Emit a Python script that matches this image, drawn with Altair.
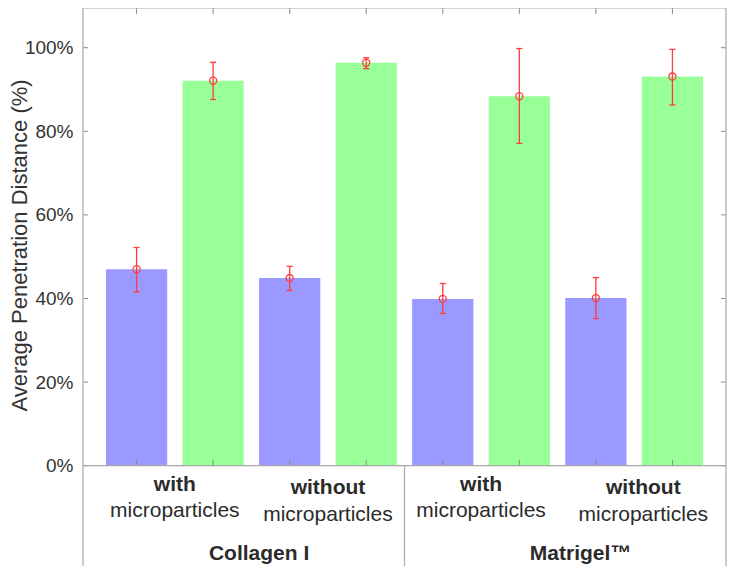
import altair as alt
import pandas as pd

# ---- data ----
matrices = ["Collagen I", "Matrigel™"]
conditions = ["with", "without"]
series = ["series 1", "series 2"]
# order: Collagen with (s1, s2), Collagen without (s1, s2), Matrigel with (s1, s2), Matrigel without (s1, s2)
means = [47.0, 92.1, 44.9, 96.4, 39.9, 88.4, 40.1, 93.1]
err_low = [41.6, 87.6, 41.9, 95.0, 36.4, 77.1, 35.2, 86.3]
err_high = [52.2, 96.5, 47.7, 97.6, 43.6, 99.8, 45.0, 99.6]
y_ticks = [0, 20, 40, 60, 80, 100]

# ---- layout constants ----
X0, X1 = 0.3, 8.7
Y0, Y1 = -24.0, 109.5
W, H = 643, 558
BAR_HALF = 0.4
CAP_HALF = 0.04
TICK_X = 5 * (X1 - X0) / W
TICK_Y = 6 * (Y1 - Y0) / H
FRAME = "#a8a8a8"
TICKC = "#8a8a8a"
RED = "#ff3c3c"
FONT = "Liberation Sans"
TXT = "#2b2b2b"
# label placement (data units below the axis) and small horizontal nudges
ROW_BOLD = {"with": -6.0, "without": -6.7}
ROW_PLAIN = {"with": -12.3, "without": -13.2}
ROW_GROUP = -22.6
NUDGE_COND = {("Matrigel™", "without"): 0.12}
NUDGE_GROUP = {"Collagen I": 0.1, "Matrigel™": 0.3}

rows = []
i = 0
for m in matrices:
    for c in conditions:
        for s in series:
            rows.append(dict(pos=i + 1, matrix=m, condition=c, series=s,
                             mean=means[i], lo=err_low[i], hi=err_high[i]))
            i += 1
df = pd.DataFrame(rows)

xs = alt.Scale(domain=[X0, X1], nice=False, zero=False)
ys = alt.Scale(domain=[Y0, Y1], nice=False, zero=False)
yaxis = alt.Axis(values=y_ticks, labelExpr="datum.value + '%'", domain=False, ticks=False,
                 grid=False, labelFontSize=19, labelFont=FONT, labelColor="#333333",
                 labelPadding=10, title="Average Penetration Distance (%)", titleFont=FONT,
                 titleFontSize=22, titleFontWeight="normal", titleColor="#333333",
                 titleAngle=270, titleBaseline="bottom", titleAlign="center",
                 titleX=-52, titleY=237)


def X(f):
    return alt.X(f, type="quantitative", scale=xs, axis=None)


def Y(f):
    return alt.Y(f, type="quantitative", scale=ys, axis=yaxis)


base = alt.Chart(df)

bars = base.transform_calculate(
    xa=f"datum.pos - {BAR_HALF}", xb=f"datum.pos + {BAR_HALF}", zero="0"
).mark_bar(opacity=1).encode(
    x=X("xa"), x2="xb", y=Y("mean"), y2="zero",
    color=alt.Color("series:N", scale=alt.Scale(domain=series, range=["#9999ff", "#99ff99"]),
                    legend=None),
)

err = base.mark_rule(color=RED, strokeWidth=1.3).encode(x=X("pos"), y=Y("lo"), y2="hi")
cap_hi = base.transform_calculate(
    xa=f"datum.pos - {CAP_HALF}", xb=f"datum.pos + {CAP_HALF}"
).mark_rule(color=RED, strokeWidth=1.3).encode(x=X("xa"), x2="xb", y=Y("hi"))
cap_lo = base.transform_calculate(
    xa=f"datum.pos - {CAP_HALF}", xb=f"datum.pos + {CAP_HALF}"
).mark_rule(color=RED, strokeWidth=1.3).encode(x=X("xa"), x2="xb", y=Y("lo"))
pts = base.mark_point(shape="circle", filled=False, size=50, strokeWidth=1.3,
                      color=RED, opacity=1).encode(x=X("pos"), y=Y("mean"))

# frame and dividers
mid = (X0 + X1) / 2
frame_df = pd.DataFrame([
    dict(x=X0, x2=X0, y=Y0, y2=Y1),
    dict(x=X1, x2=X1, y=Y0, y2=Y1),
    dict(x=X0, x2=X1, y=Y1, y2=Y1),
    dict(x=X0, x2=X1, y=0, y2=0),
    dict(x=mid, x2=mid, y=Y0, y2=0),
])
frame = alt.Chart(frame_df).mark_rule(color=FRAME, strokeWidth=1.2).encode(
    x=X("x"), x2="x2", y=Y("y"), y2="y2")

# ticks
yt_df = pd.DataFrame({"v": y_ticks})
ytl = alt.Chart(yt_df).transform_calculate(a=f"{X0}", b=f"{X0 + TICK_X}").mark_rule(
    color=TICKC).encode(x=X("a"), x2="b", y=Y("v"))
ytr = alt.Chart(yt_df).transform_calculate(a=f"{X1 - TICK_X}", b=f"{X1}").mark_rule(
    color=TICKC).encode(x=X("a"), x2="b", y=Y("v"))
xtb = base.transform_calculate(a="0", b=f"{TICK_Y}").mark_rule(color=TICKC).encode(
    x=X("pos"), y=Y("a"), y2="b")
xtt = base.transform_calculate(a=f"{Y1 - TICK_Y}", b=f"{Y1}").mark_rule(color=TICKC).encode(
    x=X("pos"), y=Y("a"), y2="b")

# labels under the axis
lab_rows = []
grp_rows = []
for m in matrices:
    sub = df[df.matrix == m]
    for c in conditions:
        p = sub[sub.condition == c].pos.mean() + NUDGE_COND.get((m, c), 0.0)
        lab_rows.append(dict(x=p, y=ROW_BOLD[c], text=c, kind="bold"))
        lab_rows.append(dict(x=p, y=ROW_PLAIN[c], text="microparticles", kind="plain"))
    grp_rows.append(dict(x=sub.pos.mean() + NUDGE_GROUP[m], y=ROW_GROUP, text=m))
lab_df = pd.DataFrame(lab_rows)
grp_df = pd.DataFrame(grp_rows)

bold_lab = alt.Chart(lab_df).transform_filter("datum.kind == 'bold'").mark_text(
    font=FONT, fontSize=21, fontWeight="bold", color=TXT, baseline="alphabetic",
    align="center").encode(x=X("x"), y=Y("y"), text="text:N")
plain_lab = alt.Chart(lab_df).transform_filter("datum.kind == 'plain'").mark_text(
    font=FONT, fontSize=21, color=TXT, baseline="alphabetic", align="center").encode(
    x=X("x"), y=Y("y"), text="text:N")
grp_lab = alt.Chart(grp_df).mark_text(
    font=FONT, fontSize=21, fontWeight="bold", color=TXT, baseline="alphabetic",
    align="center").encode(x=X("x"), y=Y("y"), text="text:N")

chart = alt.layer(
    bars, xtb, xtt, ytl, ytr, err, cap_hi, cap_lo, pts, frame, bold_lab, plain_lab, grp_lab
).properties(
    width=W, height=H,
    autosize=alt.AutoSizeParams(type="none"),
    padding={"left": 75, "top": 0, "right": 1, "bottom": 0},
).configure_view(stroke=None)

chart.save("out.html", embed_options={"renderer": "svg", "actions": False})
